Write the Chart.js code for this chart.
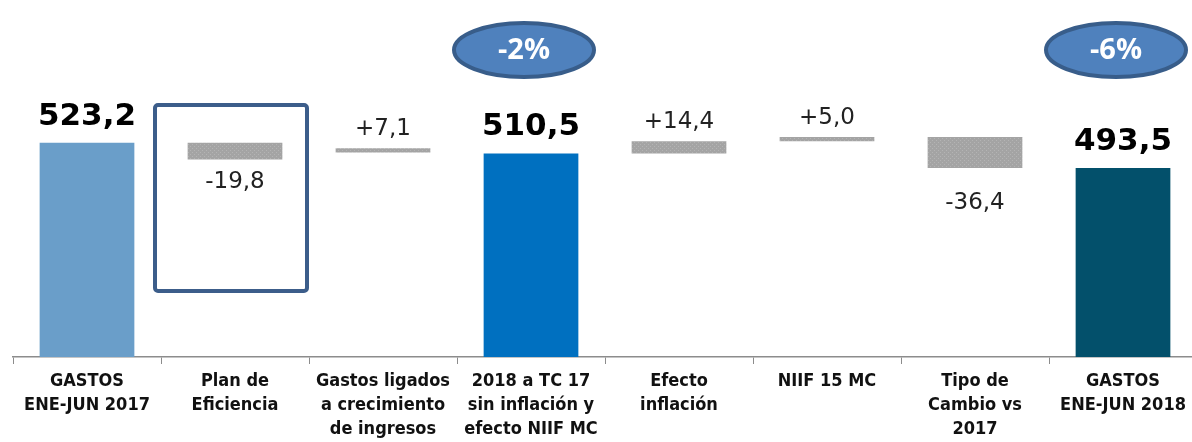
<!DOCTYPE html>
<html>
<head>
<meta charset="utf-8">
<script src="https://cdn.jsdelivr.net/npm/chart.js@4/dist/chart.umd.min.js"></script>
<style>
  html, body { margin: 0; padding: 0; background: #fff; overflow: hidden; }
  #wrap { position: absolute; left: 0; top: 0; width: 1197px; height: 442px; }
</style>
</head>
<body>
<div id="wrap"><canvas id="myChart"></canvas></div>
<script>
const categories = [
  ['GASTOS', 'ENE-JUN 2017'],
  ['Plan de', 'Eficiencia'],
  ['Gastos ligados', 'a crecimiento', 'de ingresos'],
  ['2018 a TC 17', 'sin inflación y', 'efecto NIIF MC'],
  ['Efecto', 'inflación'],
  ['NIIF 15 MC'],
  ['Tipo de', 'Cambio vs', '2017'],
  ['GASTOS', 'ENE-JUN 2018']
];
// bar ranges [low, high]
const barRanges = [
  [0, 523.2],
  [503.4, 523.2],
  [511.5, 516.5],
  [0, 510.5],
  [510.5, 524.9],
  [524.9, 529.9],
  [493.5, 529.9],
  [0, 493.5]
];
const valueLabels = ['523,2', '-19,8', '+7,1', '510,5', '+14,4', '+5,0', '-36,4', '493,5'];
const kinds = ['total', 'down', 'up', 'total', 'up', 'up', 'down', 'total'];
const barColors = ['#6a9ec9', 'gray', 'gray', '#0070c0', 'gray', 'gray', 'gray', '#03506b'];
const bubbles = [{ index: 3, text: '-2%' }, { index: 7, text: '-6%' }];

// dotted grey fill like the original
function greyPattern() {
  const c = document.createElement('canvas');
  c.width = 4; c.height = 4;
  const p = c.getContext('2d');
  p.fillStyle = '#a4a4a4';
  p.fillRect(0, 0, 4, 4);
  p.fillStyle = '#b4b4b4';
  p.fillRect(0, 0, 1, 1);
  p.fillRect(2, 2, 1, 1);
  return p.createPattern(c, 'repeat');
}

const decorations = {
  id: 'decorations',
  afterDatasetsDraw(chart) {
    const ctx = chart.ctx;
    const x = chart.scales.x;
    const meta = chart.getDatasetMeta(0);
    ctx.save();

    // value labels
    meta.data.forEach((bar, i) => {
      const top = Math.min(bar.y, bar.base);
      const bottom = Math.max(bar.y, bar.base);
      ctx.textAlign = 'center';
      if (kinds[i] === 'total') {
        ctx.font = 'bold 31px "DejaVu Sans"';
        ctx.fillStyle = '#000';
        ctx.textBaseline = 'alphabetic';
        ctx.fillText(valueLabels[i], bar.x, top - 18);
      } else if (kinds[i] === 'up') {
        ctx.font = '23px "DejaVu Sans"';
        ctx.fillStyle = '#222';
        ctx.textBaseline = 'alphabetic';
        ctx.fillText(valueLabels[i], bar.x, top - 13);
      } else {
        ctx.font = '23px "DejaVu Sans"';
        ctx.fillStyle = '#222';
        ctx.textBaseline = 'top';
        ctx.fillText(valueLabels[i], bar.x, bottom + (i === 6 ? 24 : 11));
      }
    });

    // frame around "Plan de Eficiencia"
    const cx = x.getPixelForValue(1);
    ctx.strokeStyle = '#3c5d8a';
    ctx.lineWidth = 4;
    ctx.beginPath();
    ctx.roundRect(cx - 80, 105, 152, 186, 3);
    ctx.stroke();

    // percentage bubbles
    bubbles.forEach(b => {
      const bx = x.getPixelForValue(b.index) - 7;
      ctx.beginPath();
      ctx.ellipse(bx, 50, 70, 27, 0, 0, Math.PI * 2);
      ctx.fillStyle = '#4f81bd';
      ctx.fill();
      ctx.lineWidth = 4;
      ctx.strokeStyle = '#385d8a';
      ctx.stroke();
      ctx.fillStyle = '#fff';
      ctx.font = 'bold 29px "Open Sans"';
      ctx.textAlign = 'center';
      ctx.textBaseline = 'middle';
      ctx.fillText(b.text, bx, 51);
    });
    ctx.restore();
  }
};

const ctx = document.getElementById('myChart').getContext('2d');
const grey = greyPattern();
const chart = new Chart(ctx, {
  type: 'bar',
  data: {
    labels: categories,
    datasets: [{
      data: barRanges,
      backgroundColor: barColors.map(c => c === 'gray' ? grey : c),
      borderWidth: 0,
      categoryPercentage: 1,
      barPercentage: 0.64
    }]
  },
  options: {
    responsive: true,
    maintainAspectRatio: false,
    animation: false,
    layout: { padding: { left: 13, right: 0, top: 0, bottom: 0 } },
    plugins: { legend: { display: false }, tooltip: { enabled: false } },
    scales: {
      x: {
        offset: true,
        grid: {
          offset: true,
          drawOnChartArea: false,
          drawTicks: true,
          tickLength: 7,
          color: '#8c8c8c'
        },
        border: { color: '#8c8c8c', width: 1.5 },
        ticks: {
          color: '#111',
          padding: 5,
          maxRotation: 0,
          autoSkip: false,
          font: { family: '"DejaVu Sans Condensed", "DejaVu Sans"', weight: 'bold', size: 18, lineHeight: 1.35 }
        },
        afterFit(scale) { scale.height = 85; }
      },
      y: {
        display: false,
        min: 271,
        max: 691
      }
    }
  },
  plugins: [decorations]
});
</script>
</body>
</html>
